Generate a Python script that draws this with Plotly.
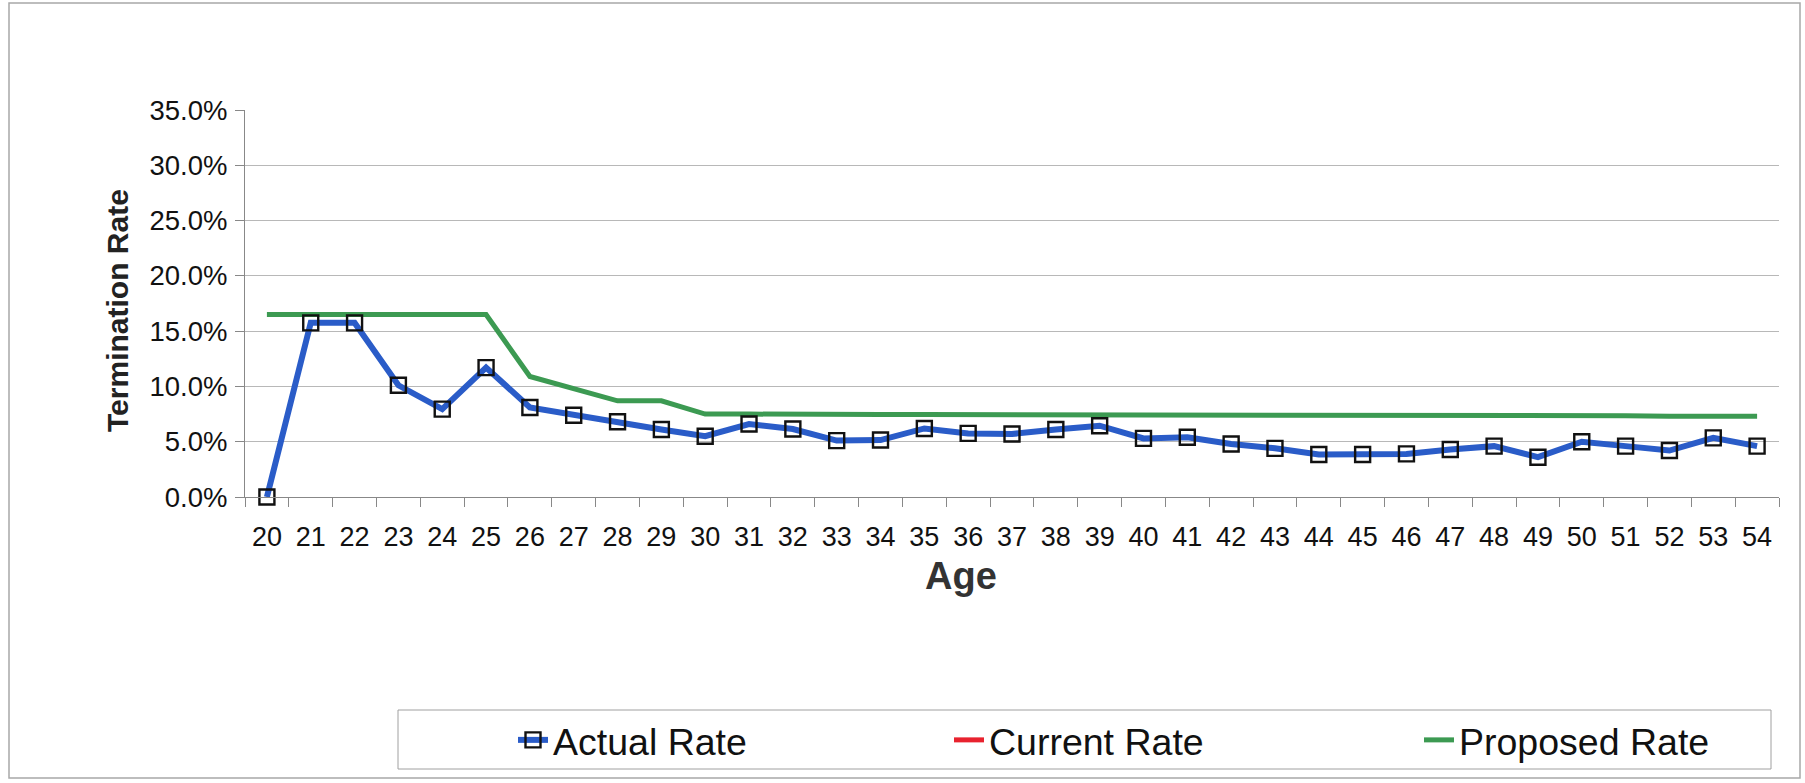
import plotly.graph_objects as go

ages = [str(a) for a in range(20, 55)]
actual_rate = [0.0, 15.75, 15.75, 10.1, 7.95, 11.7, 8.1, 7.4, 6.8, 6.1,
               5.5, 6.6, 6.15, 5.1, 5.15, 6.2, 5.75, 5.7, 6.1, 6.45,
               5.3, 5.4, 4.8, 4.4, 3.85, 3.85, 3.9, 4.3, 4.6, 3.6,
               5.0, 4.6, 4.2, 5.35, 4.6]
current_rate = [None] * 35
proposed_rate = [16.5, 16.5, 16.5, 16.5, 16.5, 16.5, 10.9, 9.8, 8.7, 8.7,
                 7.5, 7.5, 7.45, 7.45, 7.45, 7.45, 7.45, 7.4, 7.4, 7.4,
                 7.4, 7.4, 7.4, 7.4, 7.4, 7.4, 7.35, 7.35, 7.35, 7.35,
                 7.35, 7.35, 7.3, 7.3, 7.3]
y_ticks = [0, 5, 10, 15, 20, 25, 30, 35]

FONT = "Liberation Sans, Arial, sans-serif"
W_IMG, H_IMG = 1805, 783
L, R, T, B = 245, 1779, 110, 497
PW, PH = R - L, B - T


def px(x):
    return (x - L) / PW


def py(y):
    return (B - y) / PH


fig = go.Figure()
fig.add_trace(go.Scatter(
    x=ages, y=current_rate, name="Current Rate", mode="lines",
    line=dict(color="#e8222e", width=5), legend="legend2"))
fig.add_trace(go.Scatter(
    x=ages, y=[v / 100 for v in proposed_rate], name="Proposed Rate",
    mode="lines", line=dict(color="#3c9a52", width=5), legend="legend3"))
fig.add_trace(go.Scatter(
    x=ages, y=[v / 100 for v in actual_rate], name="Actual Rate",
    mode="lines+markers", line=dict(color="#2a5cc8", width=6),
    marker=dict(symbol="square-open", size=15, color="#111111", line=dict(width=2.4)),
    cliponaxis=False, legend="legend"))

leg_common = dict(bgcolor="rgba(0,0,0,0)", borderwidth=0, yanchor="middle",
                  xanchor="left", orientation="h",
                  font=dict(family=FONT, size=37.5, color="#111111"))

fig.update_layout(
    width=W_IMG, height=H_IMG,
    margin=dict(l=L, r=W_IMG - R, t=T, b=H_IMG - B, autoexpand=False),
    paper_bgcolor="white", plot_bgcolor="white",
    font=dict(family=FONT, color="#111111"),
    showlegend=True,
    legend=dict(x=px(513), y=py(740), **leg_common),
    legend2=dict(x=px(949), y=py(740), **leg_common),
    legend3=dict(x=px(1419), y=py(740), **leg_common),
    xaxis=dict(type="category", range=[-0.5, 34.5], tickson="boundaries",
               ticks="outside", ticklen=9, tickcolor="#888888", tickwidth=1,
               showline=True, linecolor="#888888", linewidth=1,
               showgrid=False, ticklabelstandoff=16,
               tickfont=dict(family=FONT, size=27, color="#111111")),
    yaxis=dict(range=[0, 0.35], tickvals=[v / 100 for v in y_ticks],
               tickformat=".1%", ticks="outside", ticklen=9,
               tickcolor="#888888", showline=True, linecolor="#888888",
               linewidth=1, showgrid=True, gridcolor="#b8b8b8", gridwidth=1,
               zeroline=False, ticklabelstandoff=2,
               tickfont=dict(family=FONT, size=27.5, color="#111111")),
    annotations=[
        dict(text="<b>Age</b>", x=px(961), y=py(576), xref="paper", yref="paper",
             showarrow=False, xanchor="center", yanchor="middle",
             font=dict(family=FONT, size=38, color="#333333")),
        dict(text="<b>Termination Rate</b>", x=px(117), y=py(311), xref="paper",
             yref="paper", showarrow=False, textangle=-90, xanchor="center",
             yanchor="middle", font=dict(family=FONT, size=30, color="#222222")),
    ],
    shapes=[
        dict(type="rect", xref="paper", yref="paper", x0=px(9), x1=px(1800),
             y0=py(778), y1=py(3), line=dict(color="#a8a8a8", width=1.5),
             fillcolor="rgba(0,0,0,0)", layer="below"),
        dict(type="rect", xref="paper", yref="paper", x0=px(398), x1=px(1771),
             y0=py(769), y1=py(710), line=dict(color="#a0a0a0", width=1),
             fillcolor="rgba(0,0,0,0)", layer="below"),
    ],
)

fig.write_html("out.html")
